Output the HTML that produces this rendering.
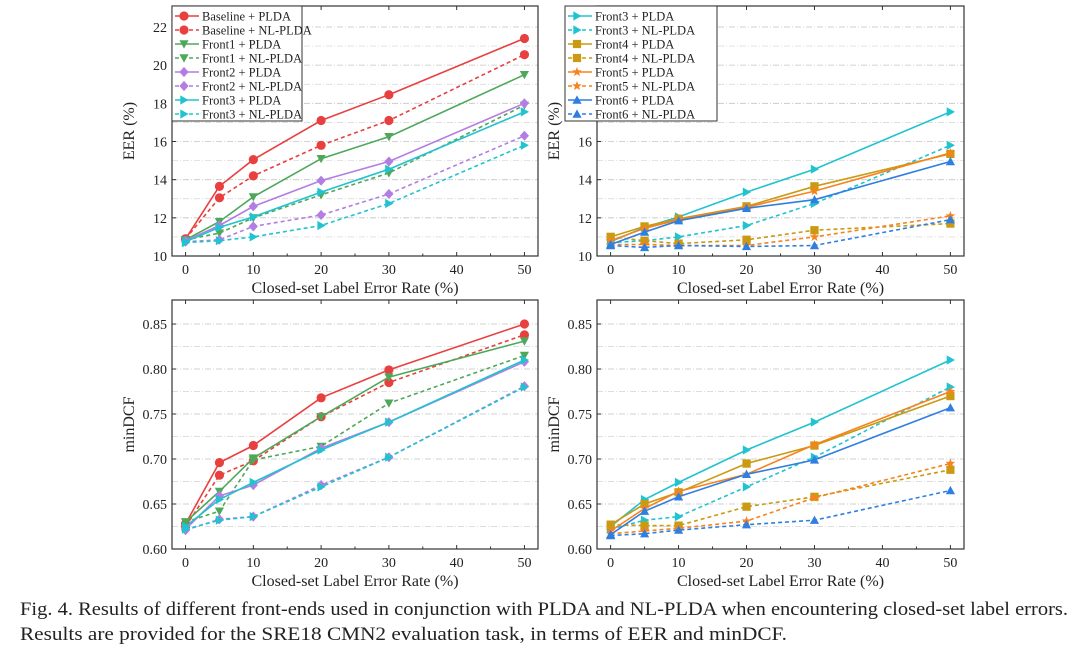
<!DOCTYPE html>
<html><head><meta charset="utf-8"><style>
body{margin:0;background:#fff;width:1080px;height:649px;overflow:hidden}
svg{display:block}
text{font-family:"Liberation Serif","Times New Roman",serif;fill:#222}
</style></head><body>
<svg id="fig" width="1080" height="649" viewBox="0 0 1080 649" xmlns="http://www.w3.org/2000/svg" font-family="Liberation Serif, Times New Roman, serif">
<text x="20" y="615" font-size="18.5" textLength="1048" lengthAdjust="spacingAndGlyphs">Fig. 4. Results of different front-ends used in conjunction with PLDA and NL-PLDA when encountering closed-set label errors.</text>
<text x="20" y="640" font-size="18.5" textLength="767" lengthAdjust="spacingAndGlyphs">Results are provided for the SRE18 CMN2 evaluation task, in terms of EER and minDCF.</text>
</svg>
<script>
const xCats = [0, 5, 10, 20, 30, 50];
const xTicks = [0, 10, 20, 30, 40, 50];
const eerTicks = [10, 12, 14, 16, 18, 20, 22];
const dcfTicks = [0.60, 0.65, 0.70, 0.75, 0.80, 0.85];

// EER left
const eerBasePLDA = [10.9, 13.65, 15.05, 17.1, 18.45, 21.4];
const eerBaseNL = [10.9, 13.05, 14.2, 15.8, 17.1, 20.55];
const eerF1PLDA = [10.85, 11.8, 13.1, 15.1, 16.25, 19.5];
const eerF1NL = [10.85, 11.2, 12.0, 13.2, 14.35, 17.9];
const eerF2PLDA = [10.8, 11.6, 12.6, 13.95, 14.95, 18.0];
const eerF2NL = [10.75, 10.85, 11.55, 12.15, 13.25, 16.3];
const eerF3PLDA = [10.75, 11.5, 12.05, 13.35, 14.55, 17.55];
const eerF3NL = [10.7, 10.8, 11.0, 11.6, 12.75, 15.8];
// EER right
const eerF4PLDA = [11.0, 11.55, 11.95, 12.6, 13.65, 15.35];
const eerF4NL = [11.0, 10.8, 10.65, 10.85, 11.35, 11.7];
const eerF5PLDA = [10.8, 11.45, 11.9, 12.55, 13.4, 15.4];
const eerF5NL = [10.6, 10.6, 10.55, 10.55, 11.0, 12.1];
const eerF6PLDA = [10.6, 11.25, 11.85, 12.5, 12.95, 14.95];
const eerF6NL = [10.55, 10.45, 10.55, 10.5, 10.55, 11.9];
// minDCF left
const dcfBasePLDA = [0.628, 0.696, 0.715, 0.768, 0.799, 0.850];
const dcfBaseNL = [0.625, 0.682, 0.698, 0.747, 0.785, 0.838];
const dcfF1PLDA = [0.630, 0.664, 0.701, 0.747, 0.791, 0.831];
const dcfF1NL = [0.630, 0.642, 0.699, 0.714, 0.762, 0.815];
const dcfF2PLDA = [0.622, 0.659, 0.671, 0.712, 0.741, 0.808];
const dcfF2NL = [0.621, 0.633, 0.636, 0.671, 0.702, 0.781];
const dcfF3PLDA = [0.625, 0.655, 0.674, 0.710, 0.741, 0.810];
const dcfF3NL = [0.622, 0.632, 0.636, 0.669, 0.702, 0.780];
// minDCF right
const dcfF4PLDA = [0.627, 0.650, 0.663, 0.695, 0.715, 0.770];
const dcfF4NL = [0.627, 0.626, 0.626, 0.647, 0.658, 0.688];
const dcfF5PLDA = [0.620, 0.645, 0.664, 0.683, 0.716, 0.775];
const dcfF5NL = [0.617, 0.620, 0.623, 0.631, 0.657, 0.695];
const dcfF6PLDA = [0.616, 0.642, 0.658, 0.683, 0.699, 0.757];
const dcfF6NL = [0.615, 0.617, 0.621, 0.627, 0.632, 0.665];

const C = {base:'#e8403f', f1:'#4ea85a', f2:'#b37de3', f3:'#20c3cf', f4:'#c99a12', f5:'#f7831f', f6:'#2f7fe0'};
const NS = 'http://www.w3.org/2000/svg';
const svg = document.getElementById('fig');
function mk(tag, attrs, parent){const e=document.createElementNS(NS,tag);for(const k in attrs)e.setAttribute(k,attrs[k]);(parent||svg).appendChild(e);return e;}

function marker(g, shape, cx, cy, col){
  const r=4.6; let e;
  if(shape==='circle') e=mk('circle',{cx,cy,r:r,fill:col},g);
  else {
    let pts;
    if(shape==='down') pts=[[-r,-r*0.8],[r,-r*0.8],[0,r]];
    else if(shape==='up') pts=[[-r,r*0.8],[r,r*0.8],[0,-r]];
    else if(shape==='right') pts=[[-r*0.8,-r],[-r*0.8,r],[r,0]];
    else if(shape==='diamond') pts=[[0,-r*1.1],[r,0],[0,r*1.1],[-r,0]];
    else if(shape==='square') pts=[[-r*0.9,-r*0.9],[r*0.9,-r*0.9],[r*0.9,r*0.9],[-r*0.9,r*0.9]];
    else { pts=[]; for(let i=0;i<10;i++){const a=-Math.PI/2+i*Math.PI/5;const rr=i%2?r*0.45:r*1.1;pts.push([rr*Math.cos(a),rr*Math.sin(a)]);} }
    e=mk('polygon',{points:pts.map(p=>(cx+p[0]).toFixed(1)+','+(cy+p[1]).toFixed(1)).join(' '),fill:col},g);
  }
  
  
}

function panel(o){
  const g=mk('g',{});
  
  
  const X=v=>o.x0+(v+2)/54*(o.x1-o.x0);
  const Y=v=>o.yb-(v-o.ymin)/(o.ymax-o.ymin)*(o.yb-o.yt);
  const yy=(o.yt+o.yb)/2;
  const yt=mk('text',{x:o.x0-38,y:yy,'font-size':16,'text-anchor':'middle',transform:`rotate(-90 ${o.x0-38} ${yy})`},g);yt.textContent=o.ytitle;
  
  o.yt2.forEach((t,i)=>{
    if(i>0){const l=mk('line',{x1:o.x0,x2:o.x1,y1:Y(t),y2:Y(t),stroke:'#c4c4c4','stroke-width':0.8,'stroke-dasharray':'6 2 1 2'},g);
      }
    if(i<o.yt2.length-1){const m=(t+o.yt2[i+1])/2;mk('line',{x1:o.x0,x2:o.x1,y1:Y(m),y2:Y(m),stroke:'#d4d4d4','stroke-width':0.7,'stroke-dasharray':'6 2 1 2'},g);}
    const tl=mk('text',{x:o.x0-5,y:Y(t)+5,'font-size':14,'text-anchor':'end'},g);tl.textContent=o.fmt(t);
    
    mk('line',{x1:o.x0,x2:o.x0+4,y1:Y(t),y2:Y(t),stroke:'#333'},g);
  });
  xTicks.forEach(t=>{
    mk('line',{x1:X(t),x2:X(t),y1:o.yb,y2:o.yb-4,stroke:'#333'},g);
    mk('line',{x1:X(t),x2:X(t),y1:o.yt,y2:o.yt+4,stroke:'#333'},g);
    if(t<50) mk('line',{x1:X(t+5),x2:X(t+5),y1:o.yb,y2:o.yb-2.5,stroke:'#333'},g);
    const tl=mk('text',{x:X(t),y:o.yb+18,'font-size':14,'text-anchor':'middle'},g);tl.textContent=t;
    
  });
  const xt=mk('text',{x:(o.x0+o.x1)/2,y:o.yb+37,'font-size':16,'text-anchor':'middle'},g);xt.textContent='Closed-set Label Error Rate (%)';
  
  o.series.forEach(s=>{
    const sg=mk('g',{},g);
    
    
    const pts=s.data.map((v,i)=>X(xCats[i]).toFixed(1)+','+Y(v).toFixed(1)).join(' ');
    mk('polyline',{points:pts,fill:'none',stroke:s.col,'stroke-width':1.6,'stroke-dasharray':s.dash?'4 3':'none'},sg);
    s.data.forEach((v,i)=>marker(sg,s.m,X(xCats[i]),Y(v),s.col));
  });
  const fr=mk('rect',{x:o.x0,y:o.yt,width:o.x1-o.x0,height:o.yb-o.yt,fill:'none',stroke:'#333','stroke-width':1.2},g);
  
  if(o.legend){
    const L=o.legend;
    const lg=mk('g',{},g);
    
    
    mk('rect',{x:L.x,y:o.yt,width:L.w,height:115,fill:'#fff',stroke:'#333','stroke-width':1},lg);
    o.series.forEach((s,i)=>{
      const y=o.yt+10+i*14;
      const eg=mk('g',{},lg);
      
      
      mk('line',{x1:L.x+3,x2:L.x+27,y1:y,y2:y,stroke:s.col,'stroke-width':1.6,'stroke-dasharray':s.dash?'4 3':'none'},eg);
      marker(eg,s.m,L.x+12,y,s.col);
      const t=mk('text',{x:L.x+30,y:y+4.5,'font-size':12.5},eg);t.textContent=s.label;
    });
  }
}
const S=(label,data,col,m,dash)=>({label,data,col,m,dash});
const leftEER=[S('Baseline + PLDA',eerBasePLDA,C.base,'circle',0),S('Baseline + NL-PLDA',eerBaseNL,C.base,'circle',1),
S('Front1 + PLDA',eerF1PLDA,C.f1,'down',0),S('Front1 + NL-PLDA',eerF1NL,C.f1,'down',1),
S('Front2 + PLDA',eerF2PLDA,C.f2,'diamond',0),S('Front2 + NL-PLDA',eerF2NL,C.f2,'diamond',1),
S('Front3 + PLDA',eerF3PLDA,C.f3,'right',0),S('Front3 + NL-PLDA',eerF3NL,C.f3,'right',1)];
const rightEER=[S('Front3 + PLDA',eerF3PLDA,C.f3,'right',0),S('Front3 + NL-PLDA',eerF3NL,C.f3,'right',1),
S('Front4 + PLDA',eerF4PLDA,C.f4,'square',0),S('Front4 + NL-PLDA',eerF4NL,C.f4,'square',1),
S('Front5 + PLDA',eerF5PLDA,C.f5,'star',0),S('Front5 + NL-PLDA',eerF5NL,C.f5,'star',1),
S('Front6 + PLDA',eerF6PLDA,C.f6,'up',0),S('Front6 + NL-PLDA',eerF6NL,C.f6,'up',1)];
const leftDCF=[S('Baseline + PLDA',dcfBasePLDA,C.base,'circle',0),S('Baseline + NL-PLDA',dcfBaseNL,C.base,'circle',1),
S('Front1 + PLDA',dcfF1PLDA,C.f1,'down',0),S('Front1 + NL-PLDA',dcfF1NL,C.f1,'down',1),
S('Front2 + PLDA',dcfF2PLDA,C.f2,'diamond',0),S('Front2 + NL-PLDA',dcfF2NL,C.f2,'diamond',1),
S('Front3 + PLDA',dcfF3PLDA,C.f3,'right',0),S('Front3 + NL-PLDA',dcfF3NL,C.f3,'right',1)];
const rightDCF=[S('Front3 + PLDA',dcfF3PLDA,C.f3,'right',0),S('Front3 + NL-PLDA',dcfF3NL,C.f3,'right',1),
S('Front4 + PLDA',dcfF4PLDA,C.f4,'square',0),S('Front4 + NL-PLDA',dcfF4NL,C.f4,'square',1),
S('Front5 + PLDA',dcfF5PLDA,C.f5,'star',0),S('Front5 + NL-PLDA',dcfF5NL,C.f5,'star',1),
S('Front6 + PLDA',dcfF6PLDA,C.f6,'up',0),S('Front6 + NL-PLDA',dcfF6NL,C.f6,'up',1)];
const eerFmt=v=>String(v), dcfFmt=v=>v.toFixed(2);
panel({name:'eer-left-chart',x0:172,x1:538,yt:6,yb:256,ymin:10,ymax:23.1,yt2:eerTicks,fmt:eerFmt,ytitle:'EER (%)',series:leftEER,legend:{x:172,w:130}});
panel({name:'eer-right-chart',x0:597,x1:964,yt:6,yb:256,ymin:10,ymax:23.1,yt2:eerTicks,fmt:eerFmt,ytitle:'EER (%)',series:rightEER,legend:{x:565,w:152}});
panel({name:'mindcf-left-chart',x0:172,x1:538,yt:300,yb:549,ymin:0.60,ymax:0.8767,yt2:dcfTicks,fmt:dcfFmt,ytitle:'minDCF',series:leftDCF});
panel({name:'mindcf-right-chart',x0:597,x1:964,yt:300,yb:549,ymin:0.60,ymax:0.8767,yt2:dcfTicks,fmt:dcfFmt,ytitle:'minDCF',series:rightDCF});
</script>
</body></html>
